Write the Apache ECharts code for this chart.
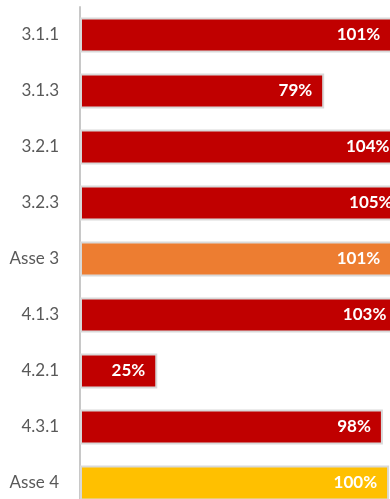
<!DOCTYPE html>
<html>
<head>
<meta charset="utf-8">
<script src="https://cdn.jsdelivr.net/npm/echarts@6/dist/echarts.min.js"></script>
<style>
  html, body { margin: 0; padding: 0; background: #ffffff; }
  #chart { width: 390px; height: 499px; }
</style>
</head>
<body>
<div id="chart"></div>
<script>
// Actions and axis totals, top to bottom
const categories = ['3.1.1', '3.1.3', '3.2.1', '3.2.3', 'Asse 3', '4.1.3', '4.2.1', '4.3.1', 'Asse 4'];
// Achievement rate (%)
const values = [101, 79, 104, 105, 101, 103, 25, 98, 100];

// Fill colour: actions in dark red, axis totals in their own colour
const actionColor = '#C00000';
const totalColors = { 'Asse 3': '#ED7D31', 'Asse 4': '#FFC000' };

const font = 'Lato, "Open Sans", sans-serif';

const chart = echarts.init(document.getElementById('chart'), null, { renderer: 'canvas' });

chart.setOption({
  animation: false,
  backgroundColor: '#ffffff',
  grid: {
    left: 80, top: 7, width: 340, height: 504,
    containLabel: false,
    outerBoundsMode: 'none'
  },
  xAxis: {
    type: 'value',
    min: 0,
    max: 110,
    show: false
  },
  yAxis: {
    type: 'category',
    inverse: true,
    data: categories,
    axisLine: { show: true, lineStyle: { color: '#c8c8c8', width: 2 } },
    axisTick: { show: false },
    axisLabel: {
      color: '#595959',
      fontFamily: font,
      fontSize: 17,
      margin: 21
    },
    splitLine: { show: false }
  },
  series: [{
    type: 'bar',
    barWidth: 35,
    clip: false,
    data: values.map((v, i) => ({
      value: v,
      itemStyle: { color: totalColors[categories[i]] || actionColor }
    })),
    itemStyle: { borderColor: '#d9d9d9', borderWidth: 2 },
    label: {
      show: true,
      position: 'insideRight',
      distance: 12,
      color: '#ffffff',
      fontFamily: font,
      fontWeight: 'bold',
      fontSize: 17,
      formatter: p => p.value + '%'
    }
  }]
});
</script>
</body>
</html>
